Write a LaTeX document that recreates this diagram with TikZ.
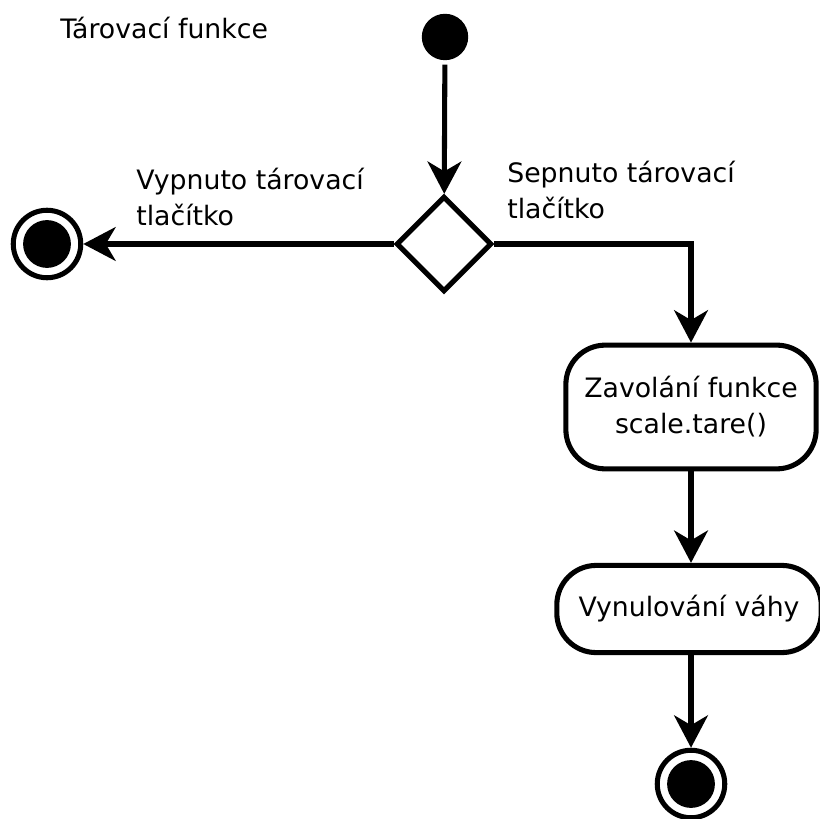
\documentclass[tikz,border=0pt]{standalone}
\usepackage{fontspec}
\setmainfont{DejaVu Sans}
\usetikzlibrary{arrows.meta,shapes.geometric,positioning}

\tikzset{
  tok/.style={line width=3.6pt, -{Stealth[length=23pt,width=24pt,inset=7pt]}},
  akce/.style={draw, line width=3.6pt, rounded corners=28pt, align=center, inner sep=0pt},
  popis/.style={align=left, inner sep=0pt},
  start/.style={circle, fill=black, minimum size=33pt, inner sep=0pt},
  konec/.style={circle, draw, line width=3.6pt, minimum size=48pt, inner sep=0pt,
    path picture={\fill (path picture bounding box.center) circle (17pt);}},
  rozhod/.style={diamond, draw, line width=3.6pt, aspect=1, minimum size=68pt, inner sep=0pt}
}

\begin{document}
\begin{tikzpicture}[x=0.025cm, y=-0.025cm, font=\fontsize{19}{25.5}\selectfont]
        \useasboundingbox (0,0) rectangle (820,819);

        % Nadpis
        \node[popis, anchor=base west] (nadpis) at (60,39) {Tárovací funkce};

        % Uzly
        \node[start] (zacatek) at (445,37) {};
        \node[rozhod] (volba) at (444,244) {};
        \node[konec] (konecL) at (47,244) {};
        \node[akce, minimum width=178pt, minimum height=88pt] (tara) at (691,407) {Zavolání funkce\\scale.tare()};
        \node[akce, minimum width=188pt, minimum height=62pt] (nula) at (689,609) {Vynulování váhy};
        \node[konec] (konecD) at (691,784) {};

        % Prechody
        \draw[tok, shorten <=3pt] (zacatek) -- (volba);
        \draw[tok] (volba.west) -- (konecL);
        \draw[tok] (volba.east) -| (tara.north);
        \draw[tok] (tara) -- (tara |- nula.north);
        \draw[tok] (nula.south -| konecD) -- (konecD);

        % Podminky
        \node[popis, anchor=west] (vypnuto) at (136,197) {Vypnuto tárovací\\tlačítko};
        \node[popis, anchor=west] (sepnuto) at (507,190) {Sepnuto tárovací\\tlačítko};
    \end{tikzpicture}
\end{document}
